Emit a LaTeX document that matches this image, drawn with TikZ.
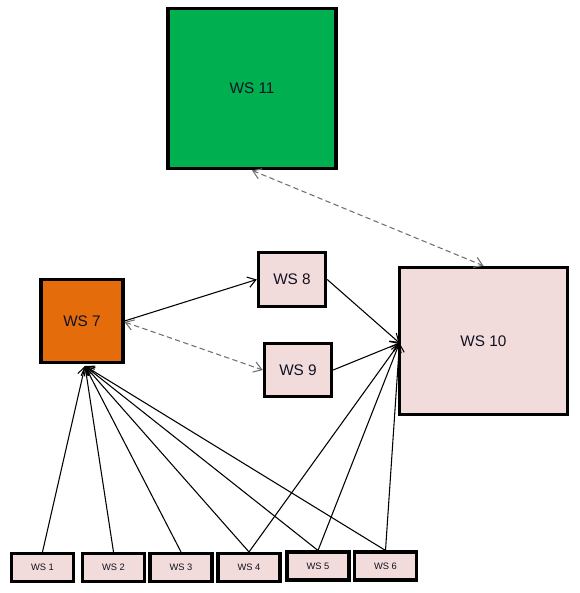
\documentclass[tikz,border=0pt]{standalone}
\usepackage{fontspec}
\setmainfont{Liberation Sans}
\usetikzlibrary{arrows.meta}
\definecolor{wspink}{HTML}{F2DCDB}
\definecolor{wsgreen}{HTML}{00B050}
\definecolor{wsorange}{HTML}{E46C0A}
\definecolor{wstext}{HTML}{111122}
\definecolor{dashgray}{HTML}{707070}
\tikzset{
  ws/.style={draw=black, line width=2.3pt, rectangle, inner sep=0pt, text=wstext, font=\fontsize{11.5}{13}\selectfont},
  wsbig/.style={ws, fill=wspink},
  wssmall/.style={ws, fill=wspink, minimum width=46.5pt, minimum height=21pt, font=\fontsize{7}{8}\selectfont},
  tip/.style={-{Straight Barb[length=6pt,width=8pt]}},
  bitip/.style={{Straight Barb[length=6pt,width=8pt]}-{Straight Barb[length=6pt,width=8pt]}},
  conn/.style={draw=black, line width=0.8pt, tip},
  dconn/.style={draw=dashgray, line width=0.8pt, dash pattern=on 4pt off 2.5pt, bitip},
}
\begin{document}
\begin{tikzpicture}[x=0.75pt,y=-0.75pt]
\useasboundingbox (0,0) rectangle (580,593);
\node[ws, fill=wsgreen, minimum width=126pt, minimum height=120.5pt] (ws11) at (252,88.5) {WS 11};
\node[ws, fill=wsorange, minimum width=61.5pt, minimum height=62.5pt] (ws7) at (82,321) {WS 7};
\node[wsbig, minimum width=50.5pt, minimum height=41pt] (ws8) at (292,279.5) {WS 8};
\node[wsbig, minimum width=50.5pt, minimum height=40pt] (ws9) at (298,370) {WS 9};
\node[wsbig, minimum width=126.5pt, minimum height=110.5pt] (ws10) at (483.5,341) {WS 10};
\node[wssmall] (ws1) at (42.5,567.5) {WS 1};
\node[wssmall] (ws2) at (113.5,567.5) {WS 2};
\node[wssmall] (ws3) at (181,567.5) {WS 3};
\node[wssmall] (ws4) at (249,567.5) {WS 4};
\node[wssmall] (ws5) at (318,566) {WS 5};
\node[wssmall] (ws6) at (385.5,566) {WS 6};
\coordinate (c7) at (85,366);
\coordinate (c10) at (399.5,343);
\draw[conn] (ws7.east) -- (ws8.west);
\draw[dconn] ([yshift=-0.75pt]ws7.east) -- (ws9.west);
\draw[dconn] (ws11.south) -- (ws10.north);
\draw[conn] (ws8.east) -- (c10);
\draw[conn] (ws9.east) -- (c10);
\foreach \n in {ws1,ws2,ws3,ws4,ws5,ws6} \draw[conn] (\n.north) -- (c7);
\foreach \n in {ws4,ws5,ws6} \draw[conn] (\n.north) -- (c10);
\end{tikzpicture}
\end{document}
